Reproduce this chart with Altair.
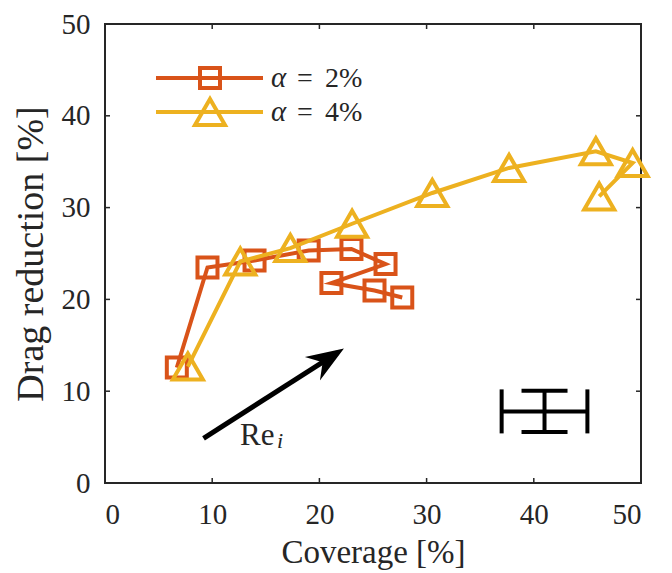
import altair as alt
import pandas as pd

# Coverage [%] and drag reduction [%] for the two series (plot order)
cov_2 = [6.70, 9.56, 13.95, 19.00, 22.99, 26.17, 21.12, 25.14, 27.73]
dr_2 = [12.57, 23.48, 24.24, 25.33, 25.49, 23.85, 21.78, 20.97, 20.21]
cov_4 = [7.73, 12.62, 17.29, 23.05, 30.53, 37.69, 45.79, 49.22, 46.10]
dr_4 = [12.68, 24.13, 25.59, 28.24, 31.59, 34.32, 36.13, 34.86, 31.22]

# Reynolds-number trend arrow (tail, head)
arrow_x = [9.19, 21.70]
arrow_y = [4.87, 14.20]

# representative uncertainty
err_x, err_y = 41.0, 7.8
err_dx, err_dy = 4.0, 2.25

tick_vals = [0, 10, 20, 30, 40, 50]
inner_ticks = [10, 20, 30, 40]

ORANGE = "#D95319"
YELLOW = "#EDB120"
INK = "#262626"
FONT = "Liberation Serif"
W, H = 536, 459

xs = alt.Scale(domain=[0, 50], nice=False, zero=True)
ys = alt.Scale(domain=[0, 50], nice=False, zero=True)

s2 = pd.DataFrame({"c": cov_2, "d": dr_2, "i": range(len(cov_2))})
s4 = pd.DataFrame({"c": cov_4, "d": dr_4, "i": range(len(cov_4))})

x_axis = alt.Axis(values=tick_vals, tickSize=0, domain=False, grid=False,
                  labelFont=FONT, labelFontSize=29, labelColor=INK, labelPadding=17,
                  title="Coverage [%]", titleFont=FONT, titleFontSize=33,
                  titleFontWeight="normal", titleColor=INK, titlePadding=7)
y_axis = alt.Axis(values=tick_vals, tickSize=0, domain=False, grid=False,
                  labelFont=FONT, labelFontSize=29, labelColor=INK, labelPadding=15,
                  title="Drag reduction [%]", titleFont=FONT, titleFontSize=38,
                  titleFontWeight="normal", titleColor=INK, titlePadding=11)


def series(df, color, shape, size):
    base = alt.Chart(df)
    line = base.mark_line(color=color, strokeWidth=4).encode(
        x=alt.X("c:Q", scale=xs, axis=x_axis),
        y=alt.Y("d:Q", scale=ys, axis=y_axis),
        order="i:Q",
    )
    pts = base.mark_point(shape=shape, size=size, filled=False, color=color,
                          strokeWidth=4, opacity=1).encode(
        x=alt.X("c:Q", scale=xs), y=alt.Y("d:Q", scale=ys))
    return line + pts


# inward ticks on all four sides
tx = pd.DataFrame({"t": inner_ticks})
ticks_b = alt.Chart(tx).mark_rule(color=INK, strokeWidth=1.5).encode(
    x=alt.X("t:Q", scale=xs), y=alt.value(H), y2=alt.value(H - 5))
ticks_t = alt.Chart(tx).mark_rule(color=INK, strokeWidth=1.5).encode(
    x=alt.X("t:Q", scale=xs), y=alt.value(0), y2=alt.value(5))
ticks_l = alt.Chart(tx).mark_rule(color=INK, strokeWidth=1.5).encode(
    y=alt.Y("t:Q", scale=ys), x=alt.value(0), x2=alt.value(5))
ticks_r = alt.Chart(tx).mark_rule(color=INK, strokeWidth=1.5).encode(
    y=alt.Y("t:Q", scale=ys), x=alt.value(W), x2=alt.value(W - 5))

# arrow
arr = pd.DataFrame({"x": arrow_x, "y": arrow_y, "i": [0, 1]})
arrow_line = alt.Chart(arr).mark_line(color="black", strokeWidth=5).encode(
    x=alt.X("x:Q", scale=xs), y=alt.Y("y:Q", scale=ys), order="i:Q")
head = pd.DataFrame({"x": [arrow_x[1]], "y": [arrow_y[1]]})
arrow_head = alt.Chart(head).mark_point(
    shape="M0,-0.4L-0.75,1.6L0,0.95L0.75,1.6Z", size=1400, filled=True,
    color="black", opacity=1, angle=57.5, strokeWidth=0).encode(
    x=alt.X("x:Q", scale=xs), y=alt.Y("y:Q", scale=ys))
re_lbl = alt.Chart(head).mark_text(text="Re", font=FONT, fontSize=31, color=INK,
                                   align="left", baseline="alphabetic").encode(
    x=alt.value(135), y=alt.value(421))
re_sub = alt.Chart(head).mark_text(text="i", font=FONT, fontSize=22, fontStyle="italic",
                                   color=INK, align="left", baseline="alphabetic").encode(
    x=alt.value(172), y=alt.value(424))

# error bar with caps
eb = pd.DataFrame({"x": [err_x], "y": [err_y],
                   "x1": [err_x - err_dx], "x2": [err_x + err_dx],
                   "y1": [err_y - err_dy], "y2": [err_y + err_dy]})
eb_h = alt.Chart(eb).mark_rule(color="black", strokeWidth=4).encode(
    x=alt.X("x1:Q", scale=xs), x2="x2:Q", y=alt.Y("y:Q", scale=ys))
eb_v = alt.Chart(eb).mark_rule(color="black", strokeWidth=4).encode(
    y=alt.Y("y1:Q", scale=ys), y2="y2:Q", x=alt.X("x:Q", scale=xs))
cap_top = alt.Chart(eb).mark_tick(orient="horizontal", size=46, thickness=4, color="black",
                                  opacity=1).encode(
    x=alt.X("x:Q", scale=xs), y=alt.Y("y2:Q", scale=ys))
cap_bot = alt.Chart(eb).mark_tick(orient="horizontal", size=46, thickness=4, color="black",
                                  opacity=1).encode(
    x=alt.X("x:Q", scale=xs), y=alt.Y("y1:Q", scale=ys))
cap_l = alt.Chart(eb).mark_tick(orient="vertical", size=44, thickness=4, color="black",
                                opacity=1).encode(
    x=alt.X("x1:Q", scale=xs), y=alt.Y("y:Q", scale=ys))
cap_r = alt.Chart(eb).mark_tick(orient="vertical", size=44, thickness=4, color="black",
                                opacity=1).encode(
    x=alt.X("x2:Q", scale=xs), y=alt.Y("y:Q", scale=ys))

# legend
one = pd.DataFrame({"k": [0]})
def legend_row(y, color, shape, size, value):
    ln = alt.Chart(one).mark_rule(color=color, strokeWidth=4).encode(
        x=alt.value(51), x2=alt.value(158), y=alt.value(y))
    mk = alt.Chart(one).mark_point(shape=shape, size=size, filled=False, color=color,
                                   strokeWidth=4, opacity=1).encode(
        x=alt.value(105), y=alt.value(y))
    a = alt.Chart(one).mark_text(text="α", font=FONT, fontSize=29, fontStyle="italic",
                                 color=INK, align="left", baseline="alphabetic").encode(
        x=alt.value(166), y=alt.value(y + 9))
    eq = alt.Chart(one).mark_text(text="=", font=FONT, fontSize=28, color=INK,
                                  align="left", baseline="alphabetic").encode(
        x=alt.value(192), y=alt.value(y + 9))
    t = alt.Chart(one).mark_text(text=value, font=FONT, fontSize=28, color=INK,
                                 align="left", baseline="alphabetic").encode(
        x=alt.value(220), y=alt.value(y + 9))
    return ln + mk + a + eq + t

legend = legend_row(54, ORANGE, "square", 400, "2%") + \
    legend_row(88, YELLOW, "triangle-up", 900, "4%")

chart = alt.layer(
    ticks_b, ticks_t, ticks_l, ticks_r,
    series(s2, ORANGE, "square", 400),
    series(s4, YELLOW, "triangle-up", 900),
    arrow_line, arrow_head, re_lbl, re_sub,
    eb_h, eb_v, cap_top, cap_bot, cap_l, cap_r,
    legend,
).properties(
    width=W, height=H,
    autosize=alt.AutoSizeParams(type="none"),
    padding={"left": 105, "top": 24, "right": 31, "bottom": 90},
    background="white",
).configure_view(stroke=INK, strokeWidth=2)

chart.save("out.html", embed_options={"renderer": "svg", "actions": False})
